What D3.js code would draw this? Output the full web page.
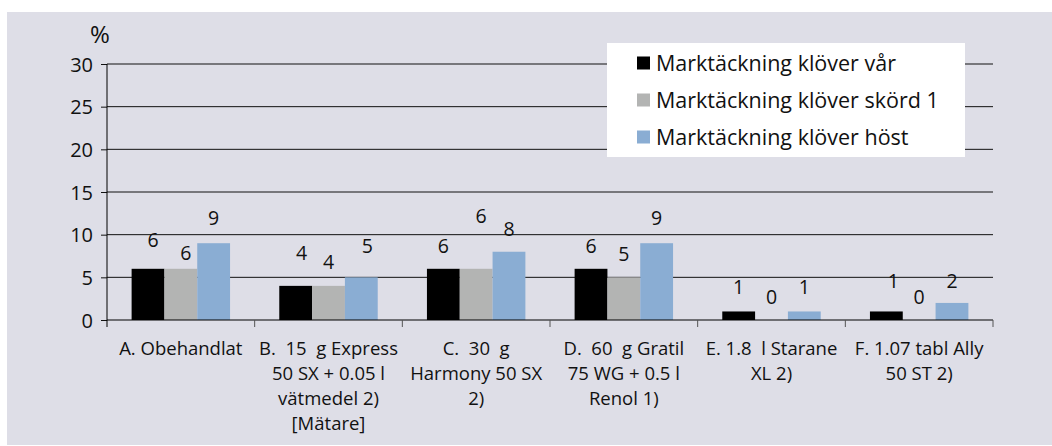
<!DOCTYPE html>
<html>
<head>
<meta charset="utf-8">
<script src="https://cdn.jsdelivr.net/npm/d3@7"></script>
<style>
  html, body { margin: 0; padding: 0; background: #fff; }
  svg { display: block; font-family: "Open Sans", sans-serif; }
</style>
</head>
<body>
<script>
const width = 1052;
const height = 446;

// data
const categories = ["A", "B", "C", "D", "E", "F"];
const categoryLines = [
  ["A. Obehandlat"],
  ["B.  15  g Express", "50 SX + 0.05 l", "vätmedel 2)", "[Mätare]"],
  ["C.  30  g", "Harmony 50 SX", "2)"],
  ["D.  60  g Gratil", "75 WG + 0.5 l", "Renol 1)"],
  ["E. 1.8  l Starane", "XL 2)"],
  ["F. 1.07 tabl Ally", "50 ST 2)"]
];
const seriesNames = [
  "Marktäckning klöver vår",
  "Marktäckning klöver skörd 1",
  "Marktäckning klöver höst"
];
const spring = [6, 4, 6, 6, 1, 1];
const harvest1 = [6, 4, 6, 5, 0, 0];
const autumn = [9, 5, 8, 9, 1, 2];
const yTicks = [0, 5, 10, 15, 20, 25, 30];

// hand-placed data labels in the original, small nudges (px) from default spot
const labelNudge = [
  [[5, -6], [5, 7], [0, -2]],
  [[6, -10], [0, -1], [6, -8]],
  [[0, 0], [5, -30], [0, 0]],
  [[0, 0], [0, 0], [0, -2]],
  [[0, -1], [0, 0], [0, -1]],
  [[7, -7], [0, 0], [0, 1]]
];

const colors = ["#000000", "#b3b4b3", "#8aadd3"];
const seriesValues = [spring, harvest1, autumn];

const svg = d3.select("body").append("svg")
  .attr("width", width)
  .attr("height", height);

svg.append("rect")
  .attr("x", 7).attr("y", 12)
  .attr("width", width - 7).attr("height", 433)
  .attr("fill", "#dedee7");

const plot = { left: 107, right: 993, top: 64, bottom: 320 };

const x0 = d3.scaleBand()
  .domain(categories)
  .range([plot.left, plot.right])
  .padding(0);

const x1 = d3.scaleBand()
  .domain(d3.range(seriesNames.length))
  .range([0, x0.bandwidth()])
  .paddingInner(0)
  .paddingOuter(0.75);

const y = d3.scaleLinear()
  .domain([0, 30])
  .range([plot.bottom, plot.top]);

// gridlines
svg.append("g")
  .selectAll("line")
  .data(yTicks.filter(d => d > 0))
  .join("line")
  .attr("x1", plot.left)
  .attr("x2", plot.right)
  .attr("y1", d => y(d))
  .attr("y2", d => y(d))
  .attr("stroke", "#111")
  .attr("stroke-width", 1);

// y axis
const yAxis = svg.append("g")
  .attr("transform", `translate(${plot.left},0)`)
  .call(d3.axisLeft(y).tickValues(yTicks).tickSize(6).tickSizeOuter(0).tickPadding(8));
yAxis.select(".domain").remove();
yAxis.selectAll(".tick line").attr("stroke", "#111");
yAxis.selectAll(".tick text")
  .attr("font-size", 20)
  .attr("font-family", "Open Sans, sans-serif")
  .attr("fill", "#111")
  .attr("dy", "0.35em");
yAxis.append("line")
  .attr("y1", plot.top).attr("y2", plot.bottom + 7)
  .attr("stroke", "#000");

svg.append("text")
  .attr("x", 100).attr("y", 35)
  .attr("dy", "0.35em")
  .attr("text-anchor", "middle")
  .attr("font-size", 24)
  .attr("fill", "#111")
  .text("%");

// bars
const groups = svg.append("g")
  .selectAll("g")
  .data(categories)
  .join("g")
  .attr("transform", d => `translate(${x0(d)},0)`);

groups.selectAll("rect")
  .data((d, i) => seriesValues.map((vals, s) => ({ s, v: vals[i] })))
  .join("rect")
  .attr("x", d => x1(d.s))
  .attr("width", x1.bandwidth())
  .attr("y", d => y(d.v))
  .attr("height", d => y(0) - y(d.v))
  .attr("fill", d => colors[d.s]);

groups.selectAll("text.val")
  .data((d, i) => seriesValues.map((vals, s) => ({ s, v: vals[i], n: labelNudge[i][s] })))
  .join("text")
  .attr("class", "val")
  .attr("x", d => x1(d.s) + x1.bandwidth() / 2 + d.n[0])
  .attr("y", d => y(d.v) - 23 + d.n[1])
  .attr("dy", "0.35em")
  .attr("text-anchor", "middle")
  .attr("font-size", 19.5)
  .attr("fill", "#111")
  .text(d => d.v);

// x axis
svg.append("line")
  .attr("x1", plot.left).attr("x2", plot.right)
  .attr("y1", plot.bottom).attr("y2", plot.bottom)
  .attr("stroke", "#000");

svg.append("g")
  .selectAll("line")
  .data(categories.slice(1).map(c => x0(c)).concat([plot.right]))
  .join("line")
  .attr("x1", d => d).attr("x2", d => d)
  .attr("y1", plot.bottom).attr("y2", plot.bottom + 7)
  .attr("stroke", "#555");

const catLabels = svg.append("g")
  .selectAll("text")
  .data(categories)
  .join("text")
  .attr("x", d => x0(d) + x0.bandwidth() / 2)
  .attr("y", 355)
  .attr("text-anchor", "middle")
  .attr("font-size", 18.5)
  .attr("fill", "#111")
  .style("white-space", "pre");

catLabels.selectAll("tspan")
  .data((d, i) => categoryLines[i])
  .join("tspan")
  .attr("x", function () { return d3.select(this.parentNode).attr("x"); })
  .attr("dy", (d, i) => i === 0 ? 0 : 25)
  .text(d => d);

// legend
const legend = svg.append("g");
legend.append("rect")
  .attr("x", 607).attr("y", 43)
  .attr("width", 358).attr("height", 114)
  .attr("fill", "#fff");

const legendItem = legend.selectAll("g")
  .data(seriesNames)
  .join("g")
  .attr("transform", (d, i) => `translate(637, ${63 + i * 37})`);

legendItem.append("rect")
  .attr("y", -6.5)
  .attr("width", 13).attr("height", 13)
  .attr("fill", (d, i) => colors[i]);

legendItem.append("text")
  .attr("x", 19)
  .attr("dy", "0.35em")
  .attr("font-size", 21.5)
  .attr("fill", "#111")
  .text(d => d);
</script>
</body>
</html>
